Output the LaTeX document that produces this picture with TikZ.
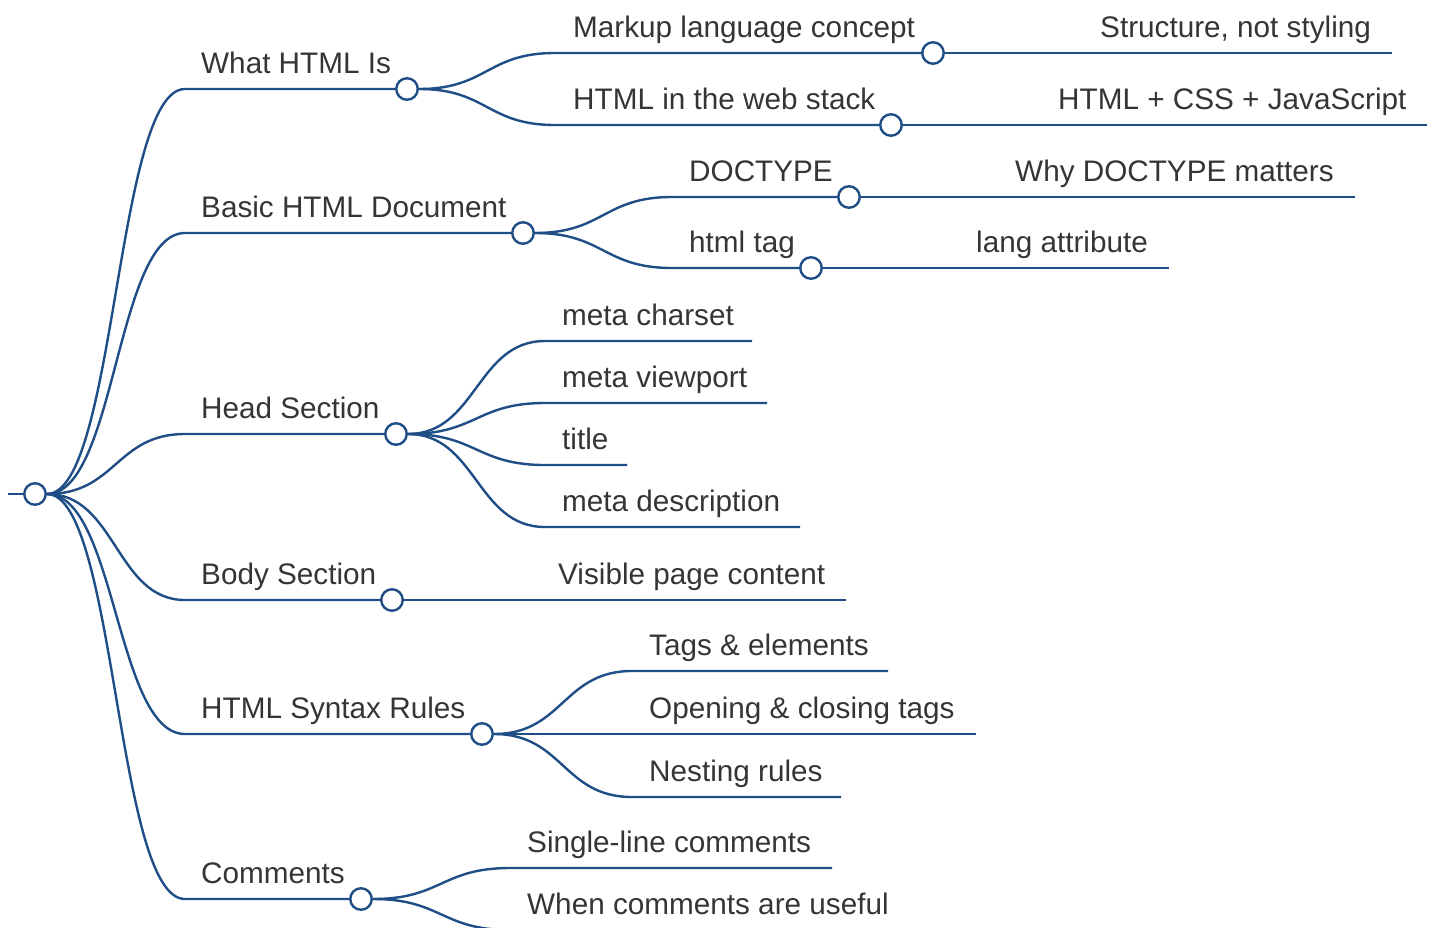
\documentclass[tikz,border=0pt]{standalone}
\usepackage{fontspec}
\setmainfont{Liberation Sans}
\usetikzlibrary{calc,backgrounds}
\definecolor{linkc}{HTML}{1F4E86}
\definecolor{txtc}{HTML}{353535}
\begin{document}
\begin{tikzpicture}[x=1pt,y=-1pt,
  link/.style={to path={let \p1=(\tikztostart),\p2=(\tikztotarget) in
     .. controls ({(\x1+\x2)/2},\y1) and ({(\x1+\x2)/2},\y2) .. (\tikztotarget)}},
  wire/.style={draw=linkc, line width=2.4pt},
  knot/.style={circle, draw=linkc, fill=white, line width=2.4pt, minimum size=21.5pt, inner sep=0pt},
  lab/.style={anchor=base west, inner sep=0pt, text=txtc, font=\fontsize{29.7}{35}\selectfont}]
\useasboundingbox (0,0) rectangle (1437,927);
% root
\node[knot] (root) at (35,494) {};
\coordinate (rin) at (8,494);
% level 1
\coordinate (s1) at (185,89);  \node[knot] (k1) at (407,89) {};  \node[lab] (t1) at (201,73) {What HTML Is};
\coordinate (s2) at (185,233); \node[knot] (k2) at (523,233) {}; \node[lab] (t2) at (201,217) {Basic HTML Document};
\coordinate (s3) at (185,434); \node[knot] (k3) at (396,434) {}; \node[lab] (t3) at (201,418) {Head Section};
\coordinate (s4) at (185,600); \node[knot] (k4) at (392,600) {}; \node[lab] (t4) at (201,584) {Body Section};
\coordinate (s5) at (185,734); \node[knot] (k5) at (482,734) {}; \node[lab] (t5) at (201,718) {HTML Syntax Rules};
\coordinate (s6) at (185,899); \node[knot] (k6) at (361,899) {}; \node[lab] (t6) at (201,883) {Comments};
% What HTML Is
\coordinate (s11) at (555,53);  \node[knot] (k11) at (933,53) {};  \node[lab] (t11) at (573,37) {Markup language concept};
\coordinate (s12) at (555,125); \node[knot] (k12) at (891,125) {}; \node[lab] (t12) at (573,109) {HTML in the web stack};
\coordinate (e111) at (1392,53);  \node[lab] (t111) at (1100,37) {Structure, not styling};
\coordinate (e121) at (1427,125); \node[lab] (t121) at (1058,109) {HTML + CSS + JavaScript};
% Basic HTML Document
\coordinate (s21) at (672,197); \node[knot] (k21) at (849,197) {}; \node[lab] (t21) at (689,181) {DOCTYPE};
\coordinate (s22) at (672,268); \node[knot] (k22) at (811,268) {}; \node[lab] (t22) at (689,252) {html tag};
\coordinate (e211) at (1355,197); \node[lab] (t211) at (1015,181) {Why DOCTYPE matters};
\coordinate (e221) at (1169,268); \node[lab] (t221) at (976,252) {lang attribute};
% Head Section
\coordinate (s31) at (545,341); \coordinate (e31) at (752,341); \node[lab] (t31) at (562,325) {meta charset};
\coordinate (s32) at (545,403); \coordinate (e32) at (767,403); \node[lab] (t32) at (562,387) {meta viewport};
\coordinate (s33) at (545,465); \coordinate (e33) at (627,465); \node[lab] (t33) at (562,449) {title};
\coordinate (s34) at (545,527); \coordinate (e34) at (800,527); \node[lab] (t34) at (562,511) {meta description};
% Body Section
\coordinate (e41) at (846,600); \node[lab] (t41) at (558,584) {Visible page content};
% Syntax
\coordinate (s51) at (632,671); \coordinate (e51) at (888,671); \node[lab] (t51) at (649,655) {Tags \& elements};
\coordinate (s52) at (632,734); \coordinate (e52) at (976,734); \node[lab] (t52) at (649,718) {Opening \& closing tags};
\coordinate (s53) at (632,797); \coordinate (e53) at (841,797); \node[lab] (t53) at (649,781) {Nesting rules};
% Comments
\coordinate (s61) at (510,868); \coordinate (e61) at (832,868); \node[lab] (t61) at (527,852) {Single-line comments};
\coordinate (s62) at (510,930); \coordinate (e62) at (910,930); \node[lab] (t62) at (527,914) {When comments are useful};
\begin{scope}[on background layer]
\draw[wire] (rin) -- (root);
\foreach \i in {1,...,6} {\draw[wire] (root.east) to[link] (s\i) -- (k\i);}
\draw[wire] (k1.east) to[link] (s11) -- (k11);
\draw[wire] (k1.east) to[link] (s12) -- (k12);
\draw[wire] (k11) -- (e111);
\draw[wire] (k12) -- (e121);
\draw[wire] (k2.east) to[link] (s21) -- (k21);
\draw[wire] (k2.east) to[link] (s22) -- (k22);
\draw[wire] (k21) -- (e211);
\draw[wire] (k22) -- (e221);
\foreach \i in {1,...,4} {\draw[wire] (k3.east) to[link] (s3\i) -- (e3\i);}
\draw[wire] (k4) -- (e41);
\foreach \i in {1,...,3} {\draw[wire] (k5.east) to[link] (s5\i) -- (e5\i);}
\foreach \i in {1,2} {\draw[wire] (k6.east) to[link] (s6\i) -- (e6\i);}
\end{scope}
\end{tikzpicture}
\end{document}
